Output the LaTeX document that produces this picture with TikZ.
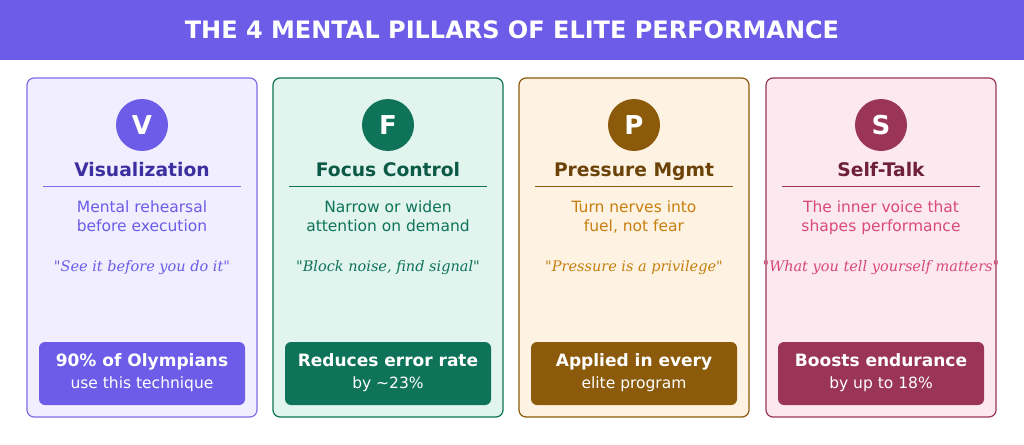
\documentclass[tikz,border=0pt]{standalone}
\usepackage{fontspec}
\setmainfont{DejaVu Sans}
\newfontfamily\qfont{DejaVu Serif}
\definecolor{hdr}{HTML}{6C5CE7}
\definecolor{fA}{HTML}{F0EEFF}\definecolor{bA}{HTML}{7C6FE8}\definecolor{tA}{HTML}{3D2FA0}\definecolor{dA}{HTML}{6C5CE7}\definecolor{cA}{HTML}{6C5CE7}
\definecolor{fB}{HTML}{E1F4EE}\definecolor{bB}{HTML}{0E7358}\definecolor{tB}{HTML}{0B5A45}\definecolor{dB}{HTML}{0E7358}\definecolor{cB}{HTML}{0E7358}
\definecolor{fC}{HTML}{FEF3E2}\definecolor{bC}{HTML}{8B5A0A}\definecolor{tC}{HTML}{6B4207}\definecolor{dC}{HTML}{C67F10}\definecolor{cC}{HTML}{8B5A0A}
\definecolor{fD}{HTML}{FCE8EF}\definecolor{bD}{HTML}{9B3558}\definecolor{tD}{HTML}{6E2038}\definecolor{dD}{HTML}{D94A7A}\definecolor{cD}{HTML}{9B3558}
\begin{document}
\begin{tikzpicture}[x=1pt,y=-1pt,
 card/.style={draw,line width=1.2pt,rounded corners=7pt,minimum width=230pt,minimum height=339pt,inner sep=0pt},
 circ/.style={circle,minimum size=52pt,inner sep=0pt,text=white,font=\fontsize{26}{26}\selectfont\bfseries},
 ttl/.style={anchor=base,inner sep=0pt,font=\fontsize{18.7}{19}\selectfont\bfseries},
 dsc/.style={anchor=base,inner sep=0pt,font=\fontsize{15.5}{19}\selectfont,align=center},
 quo/.style={anchor=base,inner sep=0pt,font=\qfont\fontsize{14.5}{15}\selectfont\itshape},
 box/.style={rounded corners=6pt,minimum width=206pt,minimum height=63pt,inner sep=0pt,text=white,align=center}]
\useasboundingbox (0,0) rectangle (1024,444);
\fill[white] (0,0) rectangle (1024,444);
\fill[hdr] (0,0) rectangle (1024,60);
\node[text=white,font=\fontsize{24}{24}\selectfont\bfseries] (title) at (512,30) {THE 4 MENTAL PILLARS OF ELITE PERFORMANCE};
\foreach \i/\x/\L/\T/\da/\db/\q/\ba/\bb in {
 A/142/V/Visualization/{Mental rehearsal}/{before execution}/{"See it before you do it"}/{90\% of Olympians}/{use this technique},
 B/388/F/{Focus Control}/{Narrow or widen}/{attention on demand}/{"Block noise, find signal"}/{Reduces error rate}/{by \textasciitilde23\%},
 C/634/P/{Pressure Mgmt}/{Turn nerves into}/{fuel, not fear}/{"Pressure is a privilege"}/{Applied in every}/{elite program},
 D/881/S/{Self-Talk}/{The inner voice that}/{shapes performance}/{"What you tell yourself matters"}/{Boosts endurance}/{by up to 18\%}}{
 \node[card,draw=b\i,fill=f\i] (card\i) at (\x,247.5) {};
 \node[circ,fill=c\i] (c\i) at (\x,125) {\L};
 \node[ttl,text=t\i] (t\i) at (\x,176) {\T};
 \draw[b\i,line width=0.6pt] (\x-99,186) -- (\x+99,186);
 \node[dsc,text=d\i] (d\i) at (\x,212.5) {\da};
 \node[dsc,text=d\i] (e\i) at (\x,231) {\db};
 \node[quo,text=d\i] (q\i) at (\x,271) {\q};
 \node[box,fill=c\i] (box\i) at (\x,373.5) {};
 \node[anchor=base,inner sep=0pt,text=white,font=\fontsize{17}{17}\selectfont\bfseries] (ba\i) at (\x,366) {\ba};
 \node[anchor=base,inner sep=0pt,text=white,font=\fontsize{15.5}{15.5}\selectfont] (bb\i) at (\x,388) {\bb};
}
\end{tikzpicture}
\end{document}
